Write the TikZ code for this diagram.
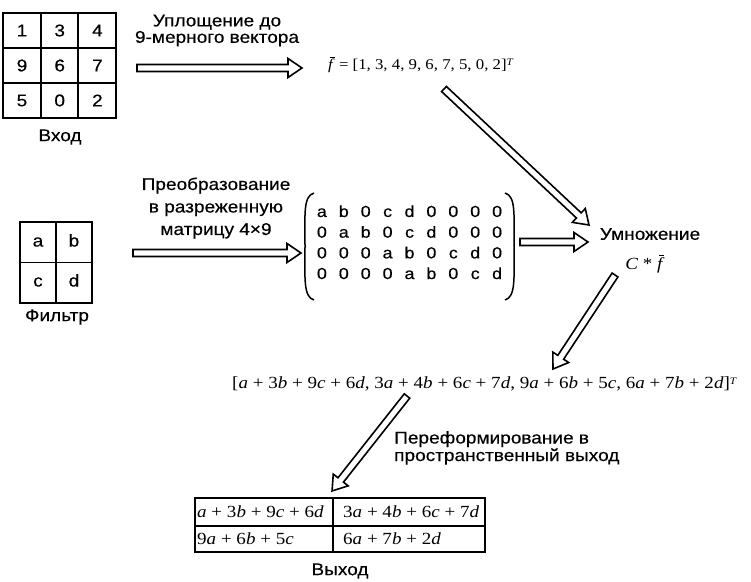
\documentclass[tikz,border=0pt]{standalone}
\usepackage{fontspec}
\setmainfont{Liberation Sans}[FakeStretch=1.12, FakeBold=0.4]
\newfontfamily\serifm{Liberation Serif}[FakeStretch=1.12]
\usetikzlibrary{calc,matrix}
\newcommand{\fb}{\textit{f}\llap{\raisebox{0.78em}{\rule{0.32em}{0.055em}}\kern0.02em}}
\newcommand{\mi}[1]{\textit{#1}}
\newcommand{\supT}{\raisebox{0.55ex}{\fontsize{10}{10}\selectfont\textit{T}}}
\tikzset{
  lbl/.style={font=\fontsize{17}{21}\selectfont, align=center, inner sep=0},
  mth/.style={font=\serifm\fontsize{17}{20}\selectfont, inner sep=0},
  cellnum/.style={font=\fontsize{17}{20}\selectfont, inner sep=0},
  gridline/.style={line width=1.5},
  harrow/.style={line width=1.6, fill=white, line join=miter},
}
\newcommand{\harrowdraw}[2]{%
  \draw[harrow] let \p1=($(#2)-(#1)$), \n1={veclen(\x1,\y1)}, \n2={atan2(\y1,\x1)} in
    [shift={(#1)}, rotate=\n2]
    (0,-3.5) -- ({\n1-14},-3.5) -- ({\n1-14},-9.5) -- (\n1,0) -- ({\n1-14},9.5) -- ({\n1-14},3.5) -- (0,3.5) -- cycle;}
\begin{document}
\begin{tikzpicture}[x=1pt,y=1pt]
\useasboundingbox (0,0) rectangle (751,-581);
% input grid
\node[draw, gridline, minimum width=113, minimum height=105, inner sep=0] (in) at (59.5,-65.5) {};
\draw[gridline] (41,-13) -- (41,-118) (78,-13) -- (78,-118) (3,-48) -- (116,-48) (3,-83) -- (116,-83);
\foreach \v [count=\i from 0] in {1,3,4,9,6,7,5,0,2}{
  \pgfmathsetmacro{\cx}{22+37.7*mod(\i,3)}
  \pgfmathsetmacro{\cy}{-30.5-35*floor(\i/3)}
  \node[cellnum] (in\i) at (\cx,\cy) {\v};
}
\node[lbl] (inlab) at (60,-137) {Вход};
% filter grid
\node[draw, gridline, minimum width=72, minimum height=81, inner sep=0] (flt) at (56,-262.5) {};
\draw[gridline] (56,-222) -- (56,-303) (20,-262.5) -- (92,-262.5);
\node[cellnum, text height=9, text depth=0] (fa) at (38,-242) {a};
\node[cellnum, text height=9, text depth=0] (fb) at (74,-242) {b};
\node[cellnum, text height=9, text depth=0] (fc) at (38,-282) {c};
\node[cellnum, text height=9, text depth=0] (fd) at (74,-282) {d};
\node[lbl] (fltlab) at (57,-317) {Фильтр};
% labels
\node[lbl, font=\fontsize{17}{16.5}\selectfont] (l1) at (217,-30.5) {Уплощение до\\9-мерного вектора};
\node[lbl, font=\fontsize{17}{22.5}\selectfont] (l2) at (216,-208) {Преобразование\\в разреженную\\матрицу 4\texttimes9};
% vector f
\node[mth, font=\serifm\fontsize{15}{18}\selectfont, anchor=west] (fvec) at (328,-64.5) {\fb{} = [1, 3, 4, 9, 6, 7, 5, 0, 2]\supT};
% matrix
\matrix (M) [matrix of nodes, nodes={font=\fontsize{16}{18}\selectfont, minimum width=21.9, minimum height=20.7, text height=10, text depth=0, inner sep=0, anchor=center}, column sep=0, row sep=0] at (409.5,-243) {
a & b & 0 & c & d & 0 & 0 & 0 & 0\\
0 & a & b & 0 & c & d & 0 & 0 & 0\\
0 & 0 & 0 & a & b & 0 & c & d & 0\\
0 & 0 & 0 & 0 & a & b & 0 & c & d\\
};
\draw[line width=1.5] (314,-193) .. controls (303,-196) and (305,-215) .. (305,-246) .. controls (305,-277) and (303,-297) .. (314,-300);
\draw[line width=1.5] (505,-193) .. controls (516,-196) and (514,-215) .. (514,-246) .. controls (514,-277) and (516,-297) .. (505,-300);
% multiplication
\node[lbl] (mul) at (650,-234) {Умножение};
\node[mth] (cf) at (645,-264) {\mi{C} * \fb};
% long vector
\node[mth, anchor=west] (lv) at (232,-384) {[\mi{a} + 3\mi{b} + 9\mi{c} + 6\mi{d}, 3\mi{a} + 4\mi{b} + 6\mi{c} + 7\mi{d}, 9\mi{a} + 6\mi{b} + 5\mi{c}, 6\mi{a} + 7\mi{b} + 2\mi{d}]\supT};
% reshape label
\node[lbl, font=\fontsize{17}{17.5}\selectfont, align=left, anchor=north west] (l3) at (394,-431) {Переформирование в\\пространственный выход};
% output table
\node[draw, line width=1.3, minimum width=290, minimum height=54, inner sep=0] (out) at (340,-525) {};
\draw[line width=1.3] (333,-498) -- (333,-552) (195,-526) -- (485,-526);
\node[mth, anchor=west] (o1) at (197,-512) {\mi{a} + 3\mi{b} + 9\mi{c} + 6\mi{d}};
\node[mth, anchor=west] (o2) at (343,-512) {3\mi{a} + 4\mi{b} + 6\mi{c} + 7\mi{d}};
\node[mth, anchor=west] (o3) at (197,-539) {9\mi{a} + 6\mi{b} + 5\mi{c}};
\node[mth, anchor=west] (o4) at (343,-539) {6\mi{a} + 7\mi{b} + 2\mi{d}};
\node[lbl] (outlab) at (340,-571) {Выход};
% arrow endpoints
\coordinate (a1s) at (137,-68); \coordinate (a1e) at (302,-68);
\coordinate (a2s) at (133,-253); \coordinate (a2e) at (301,-253);
\coordinate (a3s) at (520,-242); \coordinate (a3e) at (588,-242);
\coordinate (a4s) at (444,-89); \coordinate (a4e) at (589,-225);
\coordinate (a5s) at (615,-275); \coordinate (a5e) at (553,-369);
\coordinate (a6s) at (407,-396); \coordinate (a6e) at (332,-491);
\harrowdraw{a1s}{a1e}
\harrowdraw{a2s}{a2e}
\harrowdraw{a3s}{a3e}
\harrowdraw{a4s}{a4e}
\harrowdraw{a5s}{a5e}
\harrowdraw{a6s}{a6e}
\end{tikzpicture}
\end{document}
